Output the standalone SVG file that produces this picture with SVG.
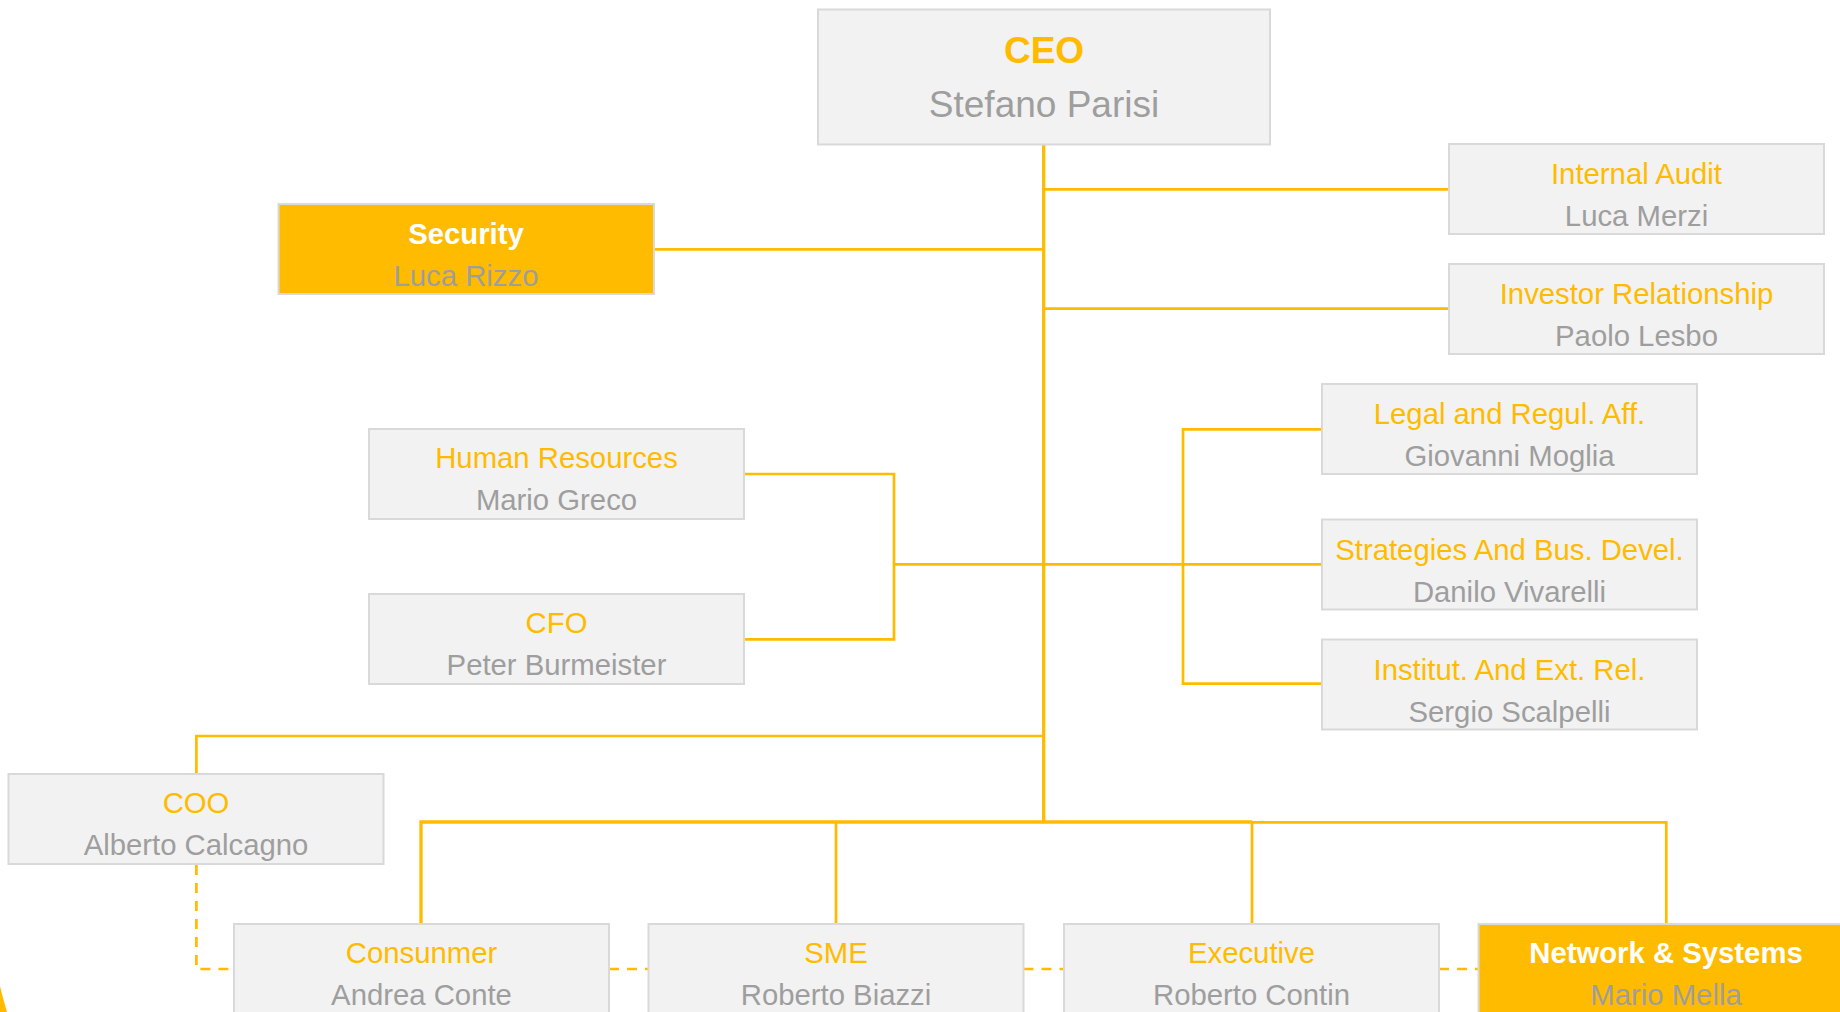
<svg xmlns="http://www.w3.org/2000/svg" width="1840" height="1012" viewBox="0 0 1840 1012">
<style>
.box{fill:#F2F2F2;stroke:#D9D9D9;stroke-width:2}
.hl{fill:#FFBB00;stroke:#D9D9D9;stroke-width:2}
.t{font-family:"Liberation Sans",Arial,sans-serif;font-size:29.3px;fill:#FFBB00;text-anchor:middle}
.tb{font-family:"Liberation Sans",Arial,sans-serif;font-size:29.3px;fill:#FFFFFF;font-weight:bold;text-anchor:middle}
.n{font-family:"Liberation Sans",Arial,sans-serif;font-size:29.3px;fill:#9E9E9E;text-anchor:middle}
.c{fill:none;stroke:#FFBB00;stroke-width:2.7}
.trunk{fill:none;stroke:#FFBB00;stroke-width:3.3}
.d{fill:none;stroke:#FFBB00;stroke-width:2.7;stroke-dasharray:10 8}
</style>
<rect width="1840" height="1012" fill="#FFFFFF"/>
<path d="M0,986 Q3,999 7,1012 L0,1012 Z" fill="#FFBB00"/>
<g id="connectors">
<line class="trunk" x1="1043.7" y1="144" x2="1043.7" y2="822.3"/>
<line class="c" x1="1043.7" y1="189.3" x2="1449" y2="189.3"/>
<line class="c" x1="654" y1="249.3" x2="1043.7" y2="249.3"/>
<line class="c" x1="1043.7" y1="308.7" x2="1449" y2="308.7"/>
<path class="c" d="M744,474 H894 V639.3 H744"/>
<path class="c" d="M894,564.3 H1322"/>
<path class="c" d="M1322,429.3 H1183 V683.6 H1322"/>
<path class="c" d="M196.4,774 V736 H1043.7"/>
<path class="trunk" d="M421,924 V822 H1252"/>
<path class="c" d="M1252,822.3 H1666.3 V924"/>
<line class="c" x1="836" y1="822.3" x2="836" y2="924"/>
<line class="c" x1="1252" y1="822.3" x2="1252" y2="924"/>
<path class="d" d="M196.4,865 V969 H234"/>
<line class="d" x1="609" y1="969" x2="648.5" y2="969"/>
<line class="d" x1="1023.5" y1="969" x2="1064" y2="969"/>
<line class="d" x1="1439" y1="969" x2="1478.5" y2="969"/>
</g>
<g id="ceo">
<rect class="box" x="818" y="9.5" width="452" height="135"/>
<text class="t" x="1044" y="63" style="font-size:37px;font-weight:bold">CEO</text>
<text class="n" x="1044" y="117" style="font-size:37px">Stefano Parisi</text>
</g>
<g id="internal-audit">
<rect class="box" x="1449" y="144" width="375" height="90"/>
<text class="t" x="1636.5" y="184">Internal Audit</text>
<text class="n" x="1636.5" y="226">Luca Merzi</text>
</g>
<g id="investor-relationship">
<rect class="box" x="1449" y="264" width="375" height="90"/>
<text class="t" x="1636.5" y="304">Investor Relationship</text>
<text class="n" x="1636.5" y="346">Paolo Lesbo</text>
</g>
<g id="security">
<rect class="hl" x="278.5" y="204" width="375.5" height="90"/>
<text class="tb" x="466" y="244">Security</text>
<text class="n" x="466" y="286">Luca Rizzo</text>
</g>
<g id="legal">
<rect class="box" x="1322" y="384" width="375" height="90"/>
<text class="t" x="1509.5" y="424">Legal and Regul. Aff.</text>
<text class="n" x="1509.5" y="466">Giovanni Moglia</text>
</g>
<g id="strategies">
<rect class="box" x="1322" y="519.5" width="375" height="90"/>
<text class="t" x="1509.5" y="559.5">Strategies And Bus. Devel.</text>
<text class="n" x="1509.5" y="601.5">Danilo Vivarelli</text>
</g>
<g id="institut">
<rect class="box" x="1322" y="639.5" width="375" height="90"/>
<text class="t" x="1509.5" y="679.5">Institut. And Ext. Rel.</text>
<text class="n" x="1509.5" y="721.5">Sergio Scalpelli</text>
</g>
<g id="human-resources">
<rect class="box" x="369" y="429" width="375" height="90"/>
<text class="t" x="556.5" y="468">Human Resources</text>
<text class="n" x="556.5" y="510">Mario Greco</text>
</g>
<g id="cfo">
<rect class="box" x="369" y="594" width="375" height="90"/>
<text class="t" x="556.5" y="633">CFO</text>
<text class="n" x="556.5" y="675">Peter Burmeister</text>
</g>
<g id="coo">
<rect class="box" x="8.5" y="774" width="375" height="90"/>
<text class="t" x="196" y="813">COO</text>
<text class="n" x="196" y="855">Alberto Calcagno</text>
</g>
<g id="consumer">
<rect class="box" x="234" y="924" width="375" height="90"/>
<text class="t" x="421.5" y="963">Consunmer</text>
<text class="n" x="421.5" y="1005">Andrea Conte</text>
</g>
<g id="sme">
<rect class="box" x="648.5" y="924" width="375" height="90"/>
<text class="t" x="836" y="963">SME</text>
<text class="n" x="836" y="1005">Roberto Biazzi</text>
</g>
<g id="executive">
<rect class="box" x="1064" y="924" width="375" height="90"/>
<text class="t" x="1251.5" y="963">Executive</text>
<text class="n" x="1251.5" y="1005">Roberto Contin</text>
</g>
<g id="network-systems">
<rect class="hl" x="1478.5" y="924" width="375" height="90"/>
<text class="tb" x="1666" y="963">Network &amp; Systems</text>
<text class="n" x="1666" y="1005">Mario Mella</text>
</g>
</svg>
